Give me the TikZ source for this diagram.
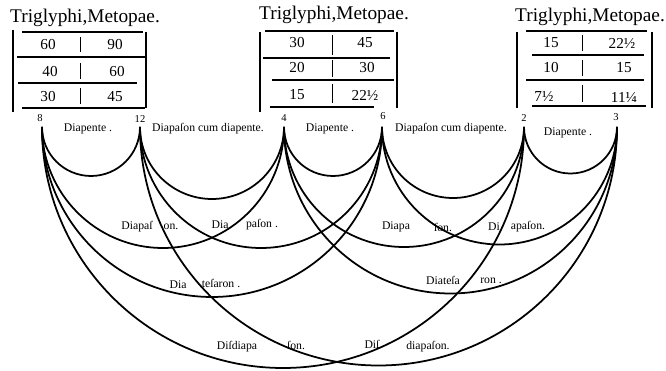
\documentclass[tikz,border=0pt]{standalone}
\usepackage{fontspec}
\setmainfont{Liberation Serif}
\usetikzlibrary{calc}

\begin{document}
\begin{tikzpicture}[
    x=0.03cm, y=0.03cm,
    title/.style={font=\fontsize{16.5}{18}\selectfont, inner sep=0pt},
    cell/.style={font=\fontsize{13}{14}\selectfont, inner sep=0pt},
    numeral/.style={font=\fontsize{9}{10}\selectfont, inner sep=0pt},
    interval/.style={font=\fontsize{10}{11}\selectfont, inner sep=0pt},
    rule/.style={line width=1.1pt},
    bar/.style={line width=1.8pt},
    sep/.style={line width=0.8pt},
    arcline/.style={line width=1.5pt}
]
\useasboundingbox (0,0) rectangle (666,371);

% Tables
\node[title] (title1) at (85,353) {Triglyphi,Metopae.};
\draw[bar] (13,341) -- (13,259);
\draw[bar] (146,339) -- (146,263);
\draw[rule] (22,339) -- (143,339);
\draw[rule] (17,314) -- (145,314);
\draw[rule] (18,288) -- (137,288);
\draw[rule] (22,263) -- (145,263);
\draw[sep] (80,334) -- (80,319);
\draw[sep] (80,308) -- (80,292);
\draw[sep] (80,283) -- (80,267);
\node[cell] (a11) at (48,326) {60};
\node[cell] (a12) at (115,326) {90};
\node[cell] (a21) at (50,299) {40};
\node[cell] (a22) at (117,299) {60};
\node[cell] (a31) at (48,274) {30};
\node[cell] (a32) at (115,274) {45};

\node[title] (title2) at (334,356) {Triglyphi,Metopae.};
\draw[bar] (260,339) -- (260,259);
\draw[bar] (397,339) -- (397,263);
\draw[rule] (265,340) -- (394,340);
\draw[rule] (263,313) -- (390,313);
\draw[rule] (272,291) -- (394,291);
\draw[rule] (270,264) -- (374,264);
\draw[sep] (332,336) -- (332,316);
\draw[sep] (332,311) -- (332,294);
\draw[sep] (332,287) -- (332,268);
\node[cell] (b11) at (297,328) {30};
\node[cell] (b12) at (365,328) {45};
\node[cell] (b21) at (297,303) {20};
\node[cell] (b22) at (367,303) {30};
\node[cell] (b31) at (297,276) {15};
\node[cell] (b32) at (365,276) {22½};

\node[title] (title3) at (590,354) {Triglyphi,Metopae.};
\draw[bar] (517,339) -- (517,263);
\draw[bar] (652,339) -- (652,263);
\draw[rule] (526,340) -- (647,340);
\draw[rule] (532,316) -- (644,316);
\draw[rule] (526,291) -- (644,291);
\draw[rule] (532,265) -- (646,265);
\draw[sep] (582,336) -- (582,320);
\draw[sep] (582,311) -- (582,295);
\draw[sep] (582,286) -- (582,269);
\node[cell] (c11) at (551,328) {15};
\node[cell] (c12) at (622,328) {22½};
\node[cell] (c21) at (551,303) {10};
\node[cell] (c22) at (624,303) {15};
\node[cell] (c31) at (544,274) {7½};
\node[cell] (c32) at (624,274) {11¼};

% Numbers and arc ends
\node[numeral] (n8) at (40,253) {8};
\node[numeral] (n12) at (140,252) {12};
\node[numeral] (n4) at (284,253) {4};
\node[numeral] (n6) at (383,255) {6};
\node[numeral] (n2) at (524,253) {2};
\node[numeral] (n3) at (616,254) {3};
\coordinate (p8) at (42,244);
\coordinate (p12) at (140,244);
\coordinate (p4) at (284,244);
\coordinate (p6) at (382,244);
\coordinate (p2) at (524,244);
\coordinate (p3) at (617,244);

% Arcs
\foreach \a/\b in {p8/p12, p12/p4, p4/p6, p6/p2, p2/p3,
                   p8/p4, p12/p6, p4/p2, p6/p3,
                   p8/p6, p4/p3,
                   p8/p2, p12/p3}
  \draw[arcline] let \p1=(\a), \p2=(\b) in
    (\a) arc[start angle=180, end angle=360, radius={0.5*(\x2-\x1)}];

% Interval names
\node[interval] (dp1) at (88,242) {Diapente .};
\node[interval] (dc1) at (208,242) {Diapaſon cum diapente.};
\node[interval] (dp2) at (330,242) {Diapente .};
\node[interval] (dc2) at (451,242) {Diapaſon cum diapente.};
\node[interval] (dp3) at (568,238) {Diapente .};

\node[interval] (da1) at (137,144) {Diapaſ};
\node[interval] (da2) at (171,144) {on.};
\node[interval] (da3) at (220,146) {Dia};
\node[interval] (da4) at (262,146) {paſon .};
\node[interval] (da5) at (396,144) {Diapa};
\node[interval] (da6) at (443,144) {ſon.};
\node[interval] (da7) at (494,144) {Di};
\node[interval] (da8) at (528,144) {apaſon.};

\node[interval] (dt1) at (178,86) {Dia};
\node[interval] (dt2) at (221,88) {teſaron .};
\node[interval] (dt3) at (443,91) {Diateſa};
\node[interval] (dt4) at (491,90) {ron .};

\node[interval] (dd1) at (237,24) {Diſdiapa};
\node[interval] (dd2) at (296,26) {ſon.};
\node[interval] (dd3) at (372,27) {Diſ};
\node[interval] (dd4) at (428,24) {diapaſon.};

\end{tikzpicture}
\end{document}
